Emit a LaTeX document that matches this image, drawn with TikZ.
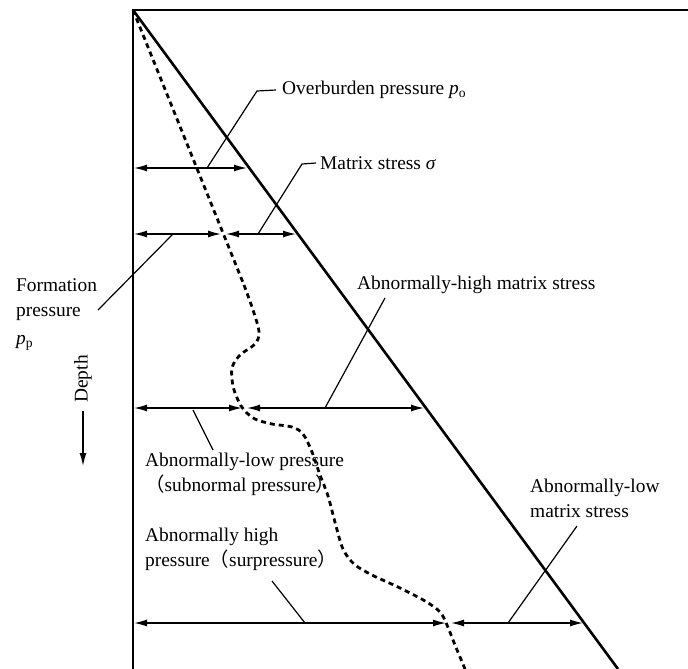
\documentclass[tikz,border=0pt]{standalone}
\usepackage{fontspec}
\setmainfont{Liberation Serif}
\newfontfamily\cjk{Noto Sans CJK SC}
\usetikzlibrary{arrows.meta}
\newcommand{\lp}{{\cjk （}}
\newcommand{\rp}{{\cjk ）}}
\begin{document}
\begin{tikzpicture}[x=1pt,y=-1pt,
  lbl/.style={inner sep=0pt,font=\fontsize{19.4}{25}\selectfont},
  frame/.style={line width=1.5pt},
  depthline/.style={line width=2.6pt},
  pore/.style={line width=2.8pt,dash pattern=on 5pt off 4pt},
  tip/.style={Latex[length=13pt,width=7pt]},
  dim/.style={line width=1.4pt,{Latex[length=13pt,width=7pt]}-{Latex[length=13pt,width=7pt]}},
  leader/.style={line width=1.2pt}]
\useasboundingbox (0,0) rectangle (688,669);
% frame
\coordinate (O) at (133,10);
\coordinate (TR) at (688,10);
\coordinate (BL) at (133,669);
\draw[frame] (BL) -- (O) -- (TR);
% overburden line
\coordinate (OB) at (618,669);
\draw[depthline] (O) -- (OB);
% formation pressure curve
\draw[pore] (O) -- (244,285) plot[smooth,tension=0.55] coordinates {(244,285) (253,310) (259,332) (255,344) (240,355) (232,368) (233,386) (238,400) (244,410) (255,419) (272,424) (292,427) (303,434) (312,452) (320,475) (328,496) (336,526) (343,549) (354,564) (372,575) (398,587) (425,601) (440,612) (447,625) (455,645) (465,669)};
% dimension arrows
\coordinate (a1l) at (134,168); \coordinate (a1r) at (247,168);
\draw[dim] (a1l) -- (a1r);
\coordinate (a2l) at (134,234); \coordinate (a2m) at (222,234); \coordinate (a2r) at (296,234);
\draw[dim] (a2l) -- ([xshift=-1pt]a2m);
\draw[dim] ([xshift=4pt]a2m) -- (a2r);
\coordinate (a3l) at (134,408); \coordinate (a3m) at (243,408); \coordinate (a3r) at (424,408);
\draw[dim] (a3l) -- ([xshift=-1pt]a3m);
\draw[dim] ([xshift=4pt]a3m) -- (a3r);
\coordinate (a4l) at (134,623); \coordinate (a4m) at (447,623); \coordinate (a4r) at (583,623);
\draw[dim] (a4l) -- ([xshift=-1pt]a4m);
\draw[dim] ([xshift=4pt]a4m) -- (a4r);
% labels
\node[lbl,anchor=west] (tob) at (282,90) {Overburden pressure \textit{p}\textsubscript{o}};
\node[lbl,anchor=west] (tms) at (320,163) {Matrix stress \textit{σ}};
\node[lbl,anchor=north west,align=left] (tfp) at (16,278) {Formation\\pressure\\[3pt]\textit{p}\textsubscript{p}};
\node[lbl,anchor=west] (tahm) at (357,285) {Abnormally-high matrix stress};
\node[lbl,anchor=north west,align=left] (talp) at (145,453) {Abnormally-low pressure\\\lp subnormal pressure\rp};
\node[lbl,anchor=north west,align=left] (talm) at (530,479) {Abnormally-low\\matrix stress};
\node[lbl,anchor=north west,align=left] (tahp) at (145,528) {Abnormally high\\pressure\lp surpressure\rp};
% leaders
\coordinate (l1a) at (207,168); \coordinate (l1b) at (257,91); \coordinate (l1c) at (276,90);
\draw[leader] (l1a) -- (l1b) -- (l1c);
\coordinate (l2a) at (258,234); \coordinate (l2b) at (302,164); \coordinate (l2c) at (316,163);
\draw[leader] (l2a) -- (l2b) -- (l2c);
\coordinate (l3a) at (173,234); \coordinate (l3b) at (98,310);
\draw[leader] (l3a) -- (l3b);
\coordinate (l4a) at (325,408); \coordinate (l4b) at (385,298);
\draw[leader] (l4a) -- (l4b);
\coordinate (l5a) at (193,410); \coordinate (l5b) at (213,450);
\draw[leader] (l5a) -- (l5b);
\coordinate (l6a) at (508,623); \coordinate (l6b) at (577,526);
\draw[leader] (l6a) -- (l6b);
\coordinate (l7a) at (305,623); \coordinate (l7b) at (272,581);
\draw[leader] (l7a) -- (l7b);
% depth
\node[lbl,rotate=90] (tdepth) at (83,379) {Depth};
\coordinate (d1) at (83,411); \coordinate (d2) at (83,466);
\draw[line width=1.4pt,-{Latex[length=13pt,width=7pt]}] (d1) -- (d2);
\end{tikzpicture}
\end{document}
